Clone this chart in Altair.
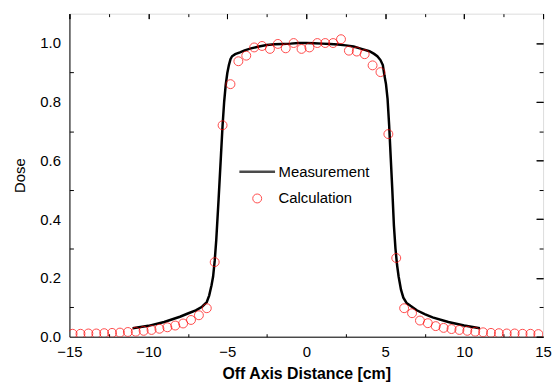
import altair as alt
import pandas as pd

# ---- data ----
meas_x = [-11.0, -10.0, -9.0, -8.0, -7.5, -7.0, -6.6, -6.3, -6.15, -6.0, -5.9, -5.8, -5.7,
          -5.55, -5.4, -5.3, -5.2, -5.1, -5.0, -4.9, -4.8, -4.7, -4.5, -4.2, -3.9, -3.5,
          -3.0, -2.5, -2.0, -1.5, -1.0, -0.5, 0.0, 0.5, 1.0, 1.5, 2.0, 2.5, 3.0, 3.5, 4.0,
          4.3, 4.5, 4.7, 4.85, 4.95, 5.05, 5.15, 5.25, 5.35, 5.45, 5.55, 5.65, 5.75, 5.85,
          6.0, 6.15, 6.35, 6.6, 7.0, 7.5, 8.0, 9.0, 10.0, 11.0]
meas_y = [0.029, 0.037, 0.050, 0.068, 0.079, 0.090, 0.102, 0.118, 0.140, 0.175, 0.205, 0.258, 0.330,
          0.470, 0.620, 0.720, 0.800, 0.858, 0.898, 0.925, 0.945, 0.955, 0.962, 0.968, 0.975, 0.982,
          0.988, 0.993, 0.996, 0.997, 0.998, 1.000, 1.000, 0.999, 0.998, 0.997, 0.995, 0.992, 0.988, 0.980, 0.972,
          0.963, 0.955, 0.942, 0.925, 0.890, 0.860, 0.810, 0.720, 0.610, 0.500, 0.380, 0.300, 0.245, 0.205,
          0.160, 0.133, 0.115, 0.105, 0.090, 0.077, 0.066, 0.050, 0.038, 0.029]

calc_x = [-14.8, -14.3, -13.8, -13.3, -12.8, -12.3, -11.8, -11.3, -10.8, -10.3,
          -9.8, -9.3, -8.8, -8.3, -7.8, -7.3, -6.8, -6.3, -5.8, -5.3,
          -4.8, -4.3, -3.8, -3.3, -2.8, -2.3, -1.8, -1.3, -0.8, -0.3,
          0.2, 0.7, 1.2, 1.7, 2.2, 2.7, 3.2, 3.7, 4.2, 4.7,
          5.2, 5.7, 6.2, 6.7, 7.2, 7.7, 8.2, 8.7, 9.2, 9.7,
          10.2, 10.7, 11.2, 11.7, 12.2, 12.7, 13.2, 13.7, 14.2, 14.7]
calc_y = [0.010, 0.010, 0.011, 0.011, 0.012, 0.013, 0.014, 0.016, 0.017, 0.020,
          0.023, 0.027, 0.032, 0.038, 0.045, 0.057, 0.073, 0.097, 0.254, 0.720,
          0.860, 0.938, 0.957, 0.985, 0.990, 0.980, 0.997, 0.982, 1.000, 0.980,
          0.985, 1.000, 1.000, 1.000, 1.013, 0.974, 0.971, 0.962, 0.924, 0.901,
          0.690, 0.268, 0.097, 0.080, 0.055, 0.046, 0.036, 0.030, 0.026, 0.023,
          0.020, 0.017, 0.015, 0.013, 0.012, 0.011, 0.011, 0.010, 0.010, 0.009]

series_names = ["Measurement", "Calculation"]
series_colors = ["#000000", "#ff0000"]
x_major = [-15, -10, -5, 0, 5, 10, 15]
x_minor = [-12.5, -7.5, -2.5, 2.5, 7.5, 12.5]
y_major = [0.0, 0.2, 0.4, 0.6, 0.8, 1.0]
y_minor = [0.1, 0.3, 0.5, 0.7, 0.9]

meas = pd.DataFrame({"x": meas_x, "y": meas_y, "series": series_names[0]})
calc = pd.DataFrame({"x": calc_x, "y": calc_y, "series": series_names[1]})

FONT = "Liberation Sans"
xscale = alt.Scale(domain=[-15, 15], nice=False, zero=False)
yscale = alt.Scale(domain=[0, 1.1], nice=False, zero=False)

legend = alt.Legend(title=None, orient="none", legendX=182, legendY=152, padding=0,
                    labelFont=FONT, labelFontSize=15, labelColor="#000000",
                    symbolSize=81, labelOffset=14, rowPadding=11)

color = alt.Color("series:N", scale=alt.Scale(domain=series_names, range=series_colors), legend=legend)
shape = alt.Shape("series:N", scale=alt.Scale(domain=series_names, range=["M-4,0H4", "circle"]), legend=legend)
swidth = alt.StrokeWidth("series:N", scale=alt.Scale(domain=series_names, range=[2.5, 1.0]), legend=legend)

tick_common = dict(labels=False, title=None, domain=False, grid=False, ticks=True,
                   tickColor="#000000", tickWidth=1)

# Layer with labelled axes + measurement line
line = alt.Chart(meas).mark_line(clip=True).encode(
    x=alt.X("x:Q", scale=xscale, axis=alt.Axis(
        values=x_major, title="Off Axis Distance [cm]", ticks=False, tickSize=0,
        labelPadding=8, titlePadding=6, grid=False, domainColor="#000000",
        labelFlush=False, labelOverlap=False,
        labelFontSize=15, titleFontSize=16, titleFontWeight="bold")),
    y=alt.Y("y:Q", scale=yscale, axis=alt.Axis(
        values=y_major, format=".1f", title="Dose", ticks=False, tickSize=0,
        labelPadding=9, titlePadding=12, grid=False, domainColor="#000000",
        labelFlush=False, labelOverlap=False,
        labelFontSize=15, titleFontSize=15, titleFontWeight="normal")),
    color=color,
    strokeWidth=swidth,
    order="x:Q",
)

# Calculation points + inward major ticks bottom/left
points = alt.Chart(calc).mark_point(filled=False, size=81, clip=True).encode(
    x=alt.X("x:Q", scale=xscale, axis=alt.Axis(values=x_major, tickSize=5, offset=-5, **tick_common)),
    y=alt.Y("y:Q", scale=yscale, axis=alt.Axis(values=y_major, tickSize=7, offset=-7, **tick_common)),
    color=color,
    shape=shape,
    strokeWidth=swidth,
)

def tick_layer(xvals, xsize, xorient, yvals, ysize, yorient):
    return alt.Chart(calc).mark_point(opacity=0, clip=True).encode(
        x=alt.X("x:Q", scale=xscale, axis=alt.Axis(values=xvals, tickSize=xsize, offset=-xsize,
                                                   orient=xorient, **tick_common)),
        y=alt.Y("y:Q", scale=yscale, axis=alt.Axis(values=yvals, tickSize=ysize, offset=-ysize,
                                                   orient=yorient, **tick_common)),
    )

minor_bl = tick_layer(x_minor, 3, "bottom", y_minor, 4, "left")
major_tr = tick_layer(x_major, 5, "top", y_major, 7, "right")
minor_tr = tick_layer(x_minor, 3, "top", y_minor, 4, "right")

chart = alt.layer(line, points, minor_bl, major_tr, minor_tr).resolve_axis(
    x="independent", y="independent"
).properties(
    width=478, height=326,
    padding={"left": 5, "top": 3, "right": 0, "bottom": 0},
).configure_view(
    stroke="#000000", strokeWidth=1
).configure_axis(
    labelFont=FONT, titleFont=FONT, labelColor="#000000", titleColor="#000000"
).configure(background="white")

chart.save("out.html", embed_options={"renderer": "svg", "actions": False})
